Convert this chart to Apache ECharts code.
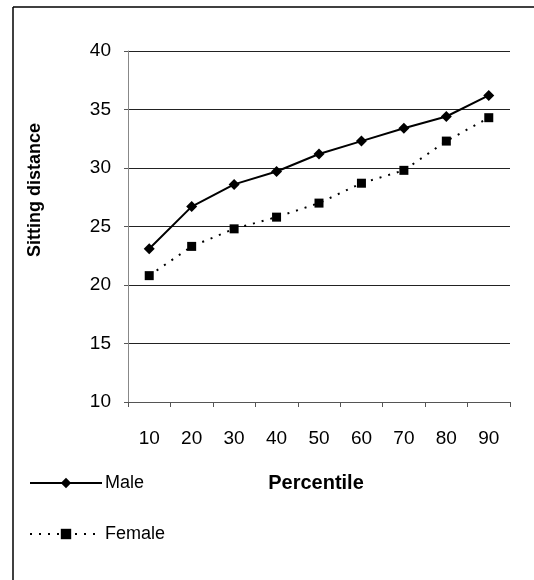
<!DOCTYPE html>
<html><head><meta charset="utf-8">
<script src="https://cdn.jsdelivr.net/npm/echarts@6/dist/echarts.min.js"></script>
<style>html,body{margin:0;padding:0;background:#fff}#c{width:534px;height:580px}</style>
</head><body><div id="c"></div>
<script>
const categories = ['10','20','30','40','50','60','70','80','90'];
const maleValues = [23.1, 26.7, 28.6, 29.7, 31.2, 32.3, 33.4, 34.4, 36.2];
const femaleValues = [20.8, 23.3, 24.8, 25.8, 27.0, 28.7, 29.8, 32.3, 34.3];
const yTicks = [10, 15, 20, 25, 30, 35, 40];

const chart = echarts.init(document.getElementById('c'), null, {renderer:'canvas'});
const font = '"Liberation Sans", Arial, sans-serif';
chart.setOption({
  animation: false,
  backgroundColor: '#fff',
  textStyle: {fontFamily: font},
  grid: {left: 128, right: 24, top: 51, bottom: 178, containLabel: false},
  graphic: [
    {type:'line', shape:{x1:13, y1:7, x2:534, y2:7}, style:{stroke:'#000', lineWidth:1.5}},
    {type:'line', shape:{x1:13, y1:7, x2:13, y2:580}, style:{stroke:'#000', lineWidth:1.5}},
    {type:'text', x:35, y:190, rotation:Math.PI/2, style:{text:'Sitting distance', fill:'#000', font:'bold 18px ' + font, align:'center', verticalAlign:'middle'}},
    {type:'text', x:316, y:483, style:{text:'Percentile', fill:'#000', font:'bold 20px ' + font, align:'center', verticalAlign:'middle'}}
  ],
  legend: {
    orient: 'vertical', left: 24, top: 469, itemGap: 33, itemWidth: 72, itemHeight: 13,
    textStyle: {fontSize: 18, color: '#000', fontFamily: font, padding: [0,0,0,-2]},
    data: ['Male', 'Female']
  },
  xAxis: {
    type: 'category', data: categories, boundaryGap: true,
    axisLine: {lineStyle: {color: '#555', width: 1}},
    axisTick: {show: true, length: 5, inside: false, lineStyle: {color: '#555'}},
    axisLabel: {color: '#000', fontSize: 19, margin: 27, fontFamily: font},
    splitLine: {show: false}
  },
  yAxis: {
    type: 'value', min: yTicks[0], max: yTicks[yTicks.length-1], interval: 5,
    axisLine: {show: true, lineStyle: {color: '#888', width: 1}},
    axisTick: {show: true, length: 4, lineStyle: {color: '#555'}},
    axisLabel: {color: '#000', fontSize: 19, margin: 17, fontFamily: font},
    splitLine: {show: true, lineStyle: {color: '#222', width: 1}}
  },
  series: [
    {name:'Male', type:'line', data: maleValues, symbol:'diamond', symbolSize: 11,
     lineStyle:{color:'#000', width:2}, itemStyle:{color:'#000'}},
    {name:'Female', type:'line', data: femaleValues, symbol:'rect', symbolSize: 9,
     lineStyle:{color:'#000', width:2, type:[2,7]}, itemStyle:{color:'#000'}}
  ]
});
</script></body></html>
